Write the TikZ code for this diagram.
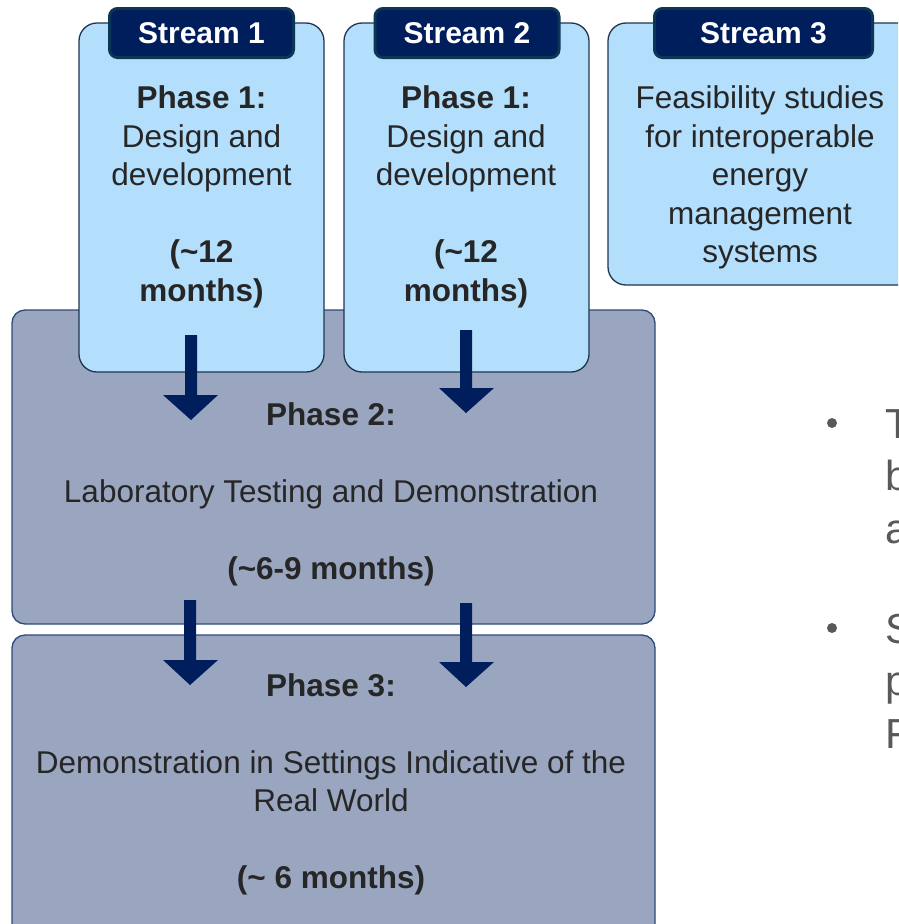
\documentclass[tikz,border=0pt]{standalone}
\usepackage{fontspec}
\setmainfont{Liberation Sans}
\definecolor{lightblue}{HTML}{B3DEFC}
\definecolor{boxline}{HTML}{1F3550}
\definecolor{phasefill}{HTML}{9AA5C0}
\definecolor{pline}{HTML}{2D4A7A}
\definecolor{navy}{HTML}{001E5C}
\definecolor{labline}{HTML}{0C3655}
\definecolor{txtc}{HTML}{262626}
\definecolor{bulc}{HTML}{595959}
\begin{document}
\begin{tikzpicture}[x=1pt,y=-1pt,
  sbox/.style={draw=boxline, fill=lightblue, line width=1.3pt, rounded corners=18pt},
  pbox/.style={draw=pline, fill=phasefill, line width=1.3pt, rounded corners=13pt},
  slabel/.style={draw=labline, fill=navy, line width=3pt, rounded corners=8pt,
    minimum height=49pt, inner sep=0pt, text=white,
    font=\fontsize{30}{36}\selectfont\bfseries},
  txt/.style={text=txtc, align=center, inner sep=0pt, anchor=north,
    font=\fontsize{31.5}{38.5}\selectfont},
  btxt/.style={text=bulc, inner sep=0pt, anchor=base west,
    font=\fontsize{42}{52}\selectfont},
  arr/.style={fill=navy},
]
\clip (0,0) rectangle (898,924);
% phase boxes
\draw[pbox] (12,310) rectangle (655,624);
\draw[pbox] (12,635) rectangle (655,950);
% stream boxes
\draw[sbox] (79,23) rectangle (324,372);
\draw[sbox] (344,23) rectangle (589,372);
\draw[sbox] (608,23) rectangle (930,285);
% stream labels
\node[slabel, minimum width=184pt] (l1) at (201.5,33) {Stream 1};
\node[slabel, minimum width=184pt] (l2) at (467,33) {Stream 2};
\node[slabel, minimum width=218pt] (l3) at (763.5,33) {Stream 3};
% texts
\node[txt] (t1) at (201.5,85.5) {\textbf{Phase 1:}\\Design and\\development\\[38.5pt]\textbf{(\textasciitilde12}\\\textbf{months)}};
\node[txt] (t2) at (466,85.5) {\textbf{Phase 1:}\\Design and\\development\\[38.5pt]\textbf{(\textasciitilde12}\\\textbf{months)}};
\node[txt] (t3) at (760,85.5) {Feasibility studies\\for interoperable\\energy\\management\\systems};
\node[txt] (t4) at (331,402) {\textbf{Phase 2:}\\[38.5pt]Laboratory Testing and Demonstration\\[38.5pt]\textbf{(\textasciitilde6-9 months)}};
\node[txt] (t5) at (331,673) {\textbf{Phase 3:}\\[38.5pt]Demonstration in Settings Indicative of the\\Real World\\[38.5pt]\textbf{(\textasciitilde{} 6 months)}};
% arrows
\fill[arr] (185,335) -- (197,335) -- (197,395) -- (218,395) -- (191,420) -- (163,395) -- (185,395) -- cycle;
\fill[arr] (460,330) -- (472,330) -- (472,388) -- (494,388) -- (466,413) -- (439,388) -- (460,388) -- cycle;
\fill[arr] (184,600) -- (196,600) -- (196,660) -- (218,660) -- (190,685) -- (163,660) -- (184,660) -- cycle;
\fill[arr] (460,603) -- (472,603) -- (472,662) -- (494,662) -- (466,687) -- (439,662) -- (460,662) -- cycle;
% bullets (cut off at right edge, as in the reference)
\fill[bulc] (832,423) circle (5);
\fill[bulc] (832,628) circle (5);
\node[btxt] (b1) at (885,438) {T};
\node[btxt] (b2) at (885,490) {b};
\node[btxt] (b3) at (885,543) {a};
\node[btxt] (b4) at (885,643) {S};
\node[btxt] (b5) at (885,695) {p};
\node[btxt] (b6) at (885,748) {F};
\end{tikzpicture}
\end{document}
